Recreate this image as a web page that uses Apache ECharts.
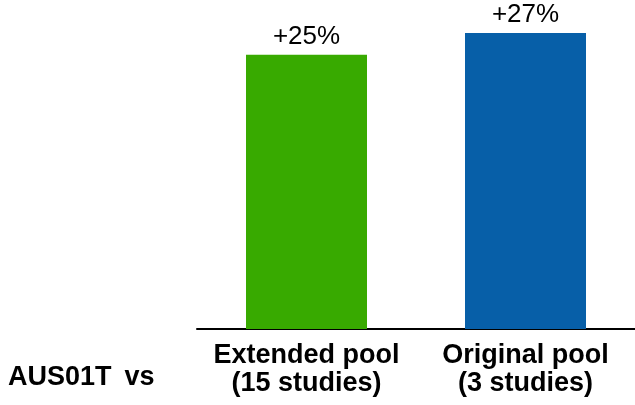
<!DOCTYPE html>
<html>
<head>
<meta charset="utf-8">
<script src="https://cdn.jsdelivr.net/npm/echarts@6/dist/echarts.min.js"></script>
<style>
  html, body { margin: 0; padding: 0; background: #ffffff; }
  #chart { width: 635px; height: 405px; }
</style>
</head>
<body>
<div id="chart"></div>
<script>
// Pools compared against AUS01T
const categories = ['Extended pool\n(15 studies)', 'Original pool\n(3 studies)'];
const improvement = [25, 27];
const barColors = ['#38AA00', '#075FA8'];
const rowTitle = 'AUS01T \u2009vs';

const chart = echarts.init(document.getElementById('chart'), null, { renderer: 'canvas' });

chart.setOption({
  animation: false,
  backgroundColor: '#ffffff',
  grid: { left: 197, right: 0, top: 0, bottom: 76, containLabel: false },
  xAxis: {
    type: 'category',
    data: categories,
    axisLine: { show: true, lineStyle: { color: '#000000', width: 2 } },
    axisTick: { show: false },
    axisLabel: {
      interval: 0,
      margin: 13,
      color: '#000000',
      fontFamily: 'Liberation Sans, Arial, sans-serif',
      fontWeight: 'bold',
      fontSize: 27,
      lineHeight: 28
    }
  },
  yAxis: {
    type: 'value',
    min: 0,
    max: 30,
    show: false,
    splitLine: { show: false }
  },
  series: [{
    type: 'bar',
    barWidth: 121,
    data: improvement.map((v, i) => ({ value: v, itemStyle: { color: barColors[i] } })),
    label: {
      show: true,
      position: 'top',
      distance: 5,
      color: '#000000',
      fontFamily: 'Liberation Sans, Arial, sans-serif',
      fontSize: 26,
      formatter: p => '+' + p.value + '%'
    }
  }],
  graphic: [{
    type: 'text',
    left: 8,
    top: 364,
    style: {
      text: rowTitle,
      fill: '#000000',
      font: 'bold 27px "Liberation Sans", Arial, sans-serif'
    }
  }]
});
</script>
</body>
</html>
